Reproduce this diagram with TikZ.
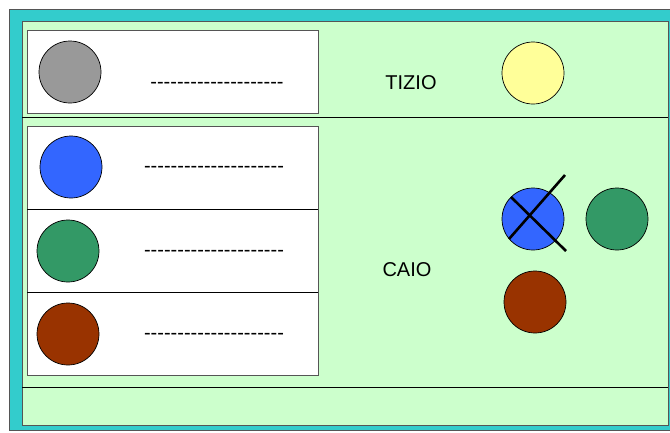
\documentclass[tikz,border=0pt]{standalone}
\usepackage{fontspec}
\setmainfont{Liberation Sans}[Ligatures=TeXOff]
\definecolor{teal1}{HTML}{33CCCC}
\definecolor{pale}{HTML}{CCFFCC}
\definecolor{cblue}{HTML}{3366FF}
\definecolor{cgreen}{HTML}{339966}
\definecolor{cbrown}{HTML}{993300}
\definecolor{cgray}{HTML}{999999}
\definecolor{cyellow}{HTML}{FFFF99}
\definecolor{edge}{HTML}{555555}
\begin{document}
\begin{tikzpicture}[x=1pt,y=-1pt,
  dot/.style={circle,draw=black,line width=0.7pt,minimum size=62pt,inner sep=0pt},
  lbl/.style={font=\fontsize{20}{22}\selectfont,inner sep=0pt},
  dsh/.style={font=\fontsize{20}{22}\selectfont,inner sep=0pt},
  cross/.style={line width=2.6pt,line cap=butt}]
\useasboundingbox (0,0) rectangle (670,432);
% frames
\draw[fill=teal1,draw=edge,line width=1pt] (9,9) rectangle (674,430);
\draw[fill=pale,draw=edge,line width=1pt] (22,21) rectangle (668,425);
\draw[black,line width=0.8pt] (22,117) -- (668,117);
\draw[black,line width=0.8pt] (22,387) -- (668,387);
% white boxes
\draw[fill=white,draw=edge,line width=0.9pt] (27,30) rectangle (318,113);
\draw[fill=white,draw=edge,line width=0.9pt] (27,126) rectangle (318,375);
\draw[black,line width=0.8pt] (27,209) -- (318,209);
\draw[black,line width=0.8pt] (27,292) -- (318,292);
% left circles
\node[dot,fill=cgray] (g) at (70,72) {};
\node[dot,fill=cblue] (b) at (71,167) {};
\node[dot,fill=cgreen] (gr) at (68,251) {};
\node[dot,fill=cbrown] (br) at (68,334) {};
% dashes
\node[dsh] (d1) at (217,85) {--------------------};
\node[dsh] (d2) at (214,169) {---------------------};
\node[dsh] (d3) at (214,253) {---------------------};
\node[dsh] (d4) at (214,336) {---------------------};
% labels
\node[lbl] (tizio) at (411,83) {TIZIO};
\node[lbl] (caio) at (407,270) {CAIO};
% right circles
\node[dot,fill=cyellow] (y) at (533,73) {};
\node[dot,fill=cblue] (b2) at (533,219) {};
\node[dot,fill=cgreen] (gr2) at (617,219) {};
\node[dot,fill=cbrown] (br2) at (535,302) {};
% cross
\coordinate (c1) at (511,197);
\coordinate (c2) at (566,251);
\coordinate (c3) at (509,239);
\coordinate (c4) at (565,175);
\draw[cross] (c1) -- (c2);
\draw[cross] (c3) -- (c4);
\end{tikzpicture}
\end{document}
